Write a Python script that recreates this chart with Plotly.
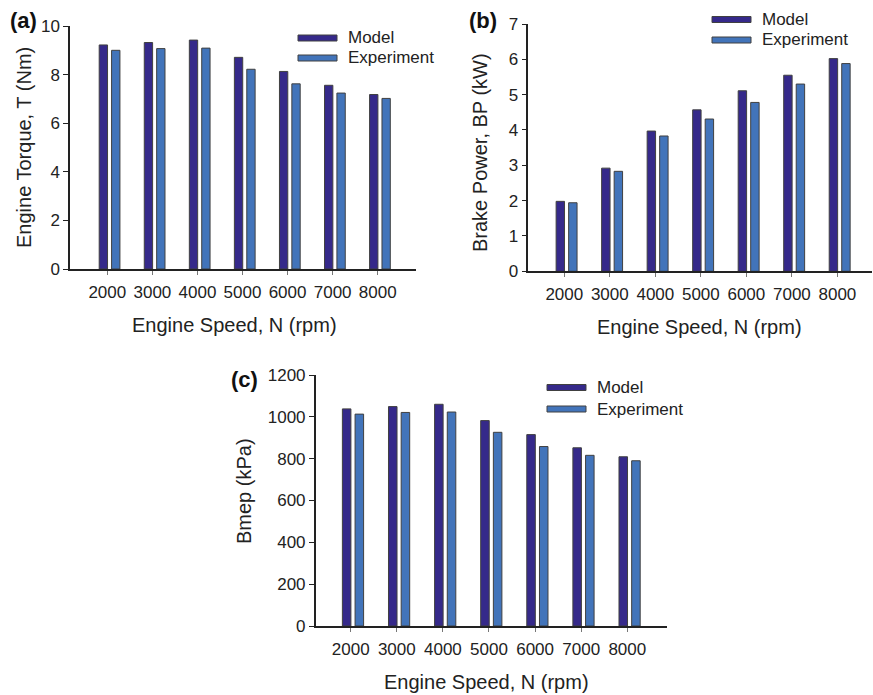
import plotly.graph_objects as go

W, H = 873, 695

speeds = [2000, 3000, 4000, 5000, 6000, 7000, 8000]
tick_labels = ["2000", "3000", "4000", "5000", "6000", "7000", "8000"]

torque_model = [9.22, 9.32, 9.42, 8.71, 8.13, 7.56, 7.18]
torque_exp = [9.00, 9.07, 9.09, 8.22, 7.62, 7.24, 7.02]

power_model = [1.98, 2.92, 3.97, 4.57, 5.11, 5.55, 6.02]
power_exp = [1.94, 2.83, 3.83, 4.31, 4.78, 5.30, 5.88]

bmep_model = [1038, 1049, 1060, 982, 915, 852, 809]
bmep_exp = [1013, 1021, 1023, 926, 858, 816, 790]

C_MODEL = "#35298A"
C_EXP = "#4274BA"
EDGE = "#404040"
FONT = "Liberation Sans, Arial, sans-serif"
TXT = "#222222"


def fx(x):
    return x / W


def fy(y):
    return 1 - y / H


panels = [
    dict(m=torque_model, e=torque_exp, xd=(70, 416), yd=(26, 269), xr=(1172, 8850), yr=(0, 10), dt=2,
         ytitle="Engine Torque, T (Nm)", yt_xy=(24, 148), xt_xy=(234, 325),
         leg=(298, 38, 58), lab=("(a)", 23, 20)),
    dict(m=power_model, e=power_exp, xd=(528.3, 872), yd=(24, 271.3), xr=(1209, 8760), yr=(0, 7), dt=1,
         ytitle="Brake Power, BP (kW)", yt_xy=(480, 153), xt_xy=(699, 327),
         leg=(712, 19.5, 40), lab=("(b)", 483, 21)),
    dict(m=bmep_model, e=bmep_exp, xd=(315.7, 667.3), yd=(375, 626), xr=(1241, 8868), yr=(0, 1200), dt=200,
         ytitle="Bmep (kPa)", yt_xy=(244, 491), xt_xy=(486, 682),
         leg=(547, 387.5, 409), lab=("(c)", 244, 379)),
]

fig = go.Figure()
annotations = []
shapes = []
layout_axes = {}

for i, p in enumerate(panels):
    n = "" if i == 0 else str(i + 1)
    xa, ya = "x" + n, "y" + n
    fig.add_trace(go.Bar(x=speeds, y=p["m"], name="Model", xaxis=xa, yaxis=ya,
                         marker=dict(color=C_MODEL, line=dict(color=EDGE, width=1)),
                         width=185, offset=-180, showlegend=False))
    fig.add_trace(go.Bar(x=speeds, y=p["e"], name="Experiment", xaxis=xa, yaxis=ya,
                         marker=dict(color=C_EXP, line=dict(color=EDGE, width=1)),
                         width=185, offset=95, showlegend=False))
    layout_axes["xaxis" + n] = dict(
        domain=[fx(p["xd"][0]), fx(p["xd"][1])], range=list(p["xr"]), anchor=ya,
        tickmode="array", tickvals=speeds, ticktext=tick_labels,
        ticks="outside", ticklen=4, tickcolor="#777777", tickwidth=1,
        showline=True, linecolor="#222222", linewidth=1.5, showgrid=False, zeroline=False,
        tickfont=dict(family=FONT, size=17, color=TXT), ticklabelstandoff=3,
        automargin=False, fixedrange=True)
    layout_axes["yaxis" + n] = dict(
        domain=[fy(p["yd"][1]), fy(p["yd"][0])], range=list(p["yr"]), anchor=xa,
        tickmode="linear", tick0=0, dtick=p["dt"],
        ticks="outside", ticklen=5, tickcolor="#222222", tickwidth=1.2,
        showline=True, linecolor="#222222", linewidth=1.5, showgrid=False, zeroline=False,
        tickfont=dict(family=FONT, size=17, color=TXT), automargin=False, fixedrange=True)
    annotations.append(dict(text=p["ytitle"], x=fx(p["yt_xy"][0]), y=fy(p["yt_xy"][1]),
                            xref="paper", yref="paper", textangle=-90, showarrow=False,
                            xanchor="center", yanchor="middle",
                            font=dict(family=FONT, size=20, color=TXT)))
    annotations.append(dict(text="Engine Speed, N (rpm)", x=fx(p["xt_xy"][0]), y=fy(p["xt_xy"][1]),
                            xref="paper", yref="paper", showarrow=False,
                            xanchor="center", yanchor="middle",
                            font=dict(family=FONT, size=20, color=TXT)))
    annotations.append(dict(text="<b>" + p["lab"][0] + "</b>", x=fx(p["lab"][1]), y=fy(p["lab"][2]),
                            xref="paper", yref="paper", showarrow=False,
                            xanchor="center", yanchor="middle",
                            font=dict(family=FONT, size=22, color="#111111")))
    lx, ly1, ly2 = p["leg"]
    for yy, col, name in [(ly1, C_MODEL, "Model"), (ly2, C_EXP, "Experiment")]:
        shapes.append(dict(type="rect", xref="paper", yref="paper",
                           x0=fx(lx), x1=fx(lx + 39), y0=fy(yy + 3), y1=fy(yy - 3),
                           fillcolor=col, line=dict(color=EDGE, width=1)))
        annotations.append(dict(text=name, x=fx(lx + 48), y=fy(yy), xref="paper", yref="paper",
                                showarrow=False, xanchor="left", yanchor="middle",
                                font=dict(family=FONT, size=17, color=TXT)))

fig.update_layout(
    width=W, height=H, margin=dict(l=0, r=0, t=0, b=0, pad=0, autoexpand=False),
    paper_bgcolor="white", plot_bgcolor="white",
    barmode="overlay", showlegend=False,
    annotations=annotations, shapes=shapes,
    **layout_axes,
)

fig.write_html("out.html", config={"displayModeBar": False},
               post_script="document.body.style.margin='0';document.body.style.overflow='hidden';")
